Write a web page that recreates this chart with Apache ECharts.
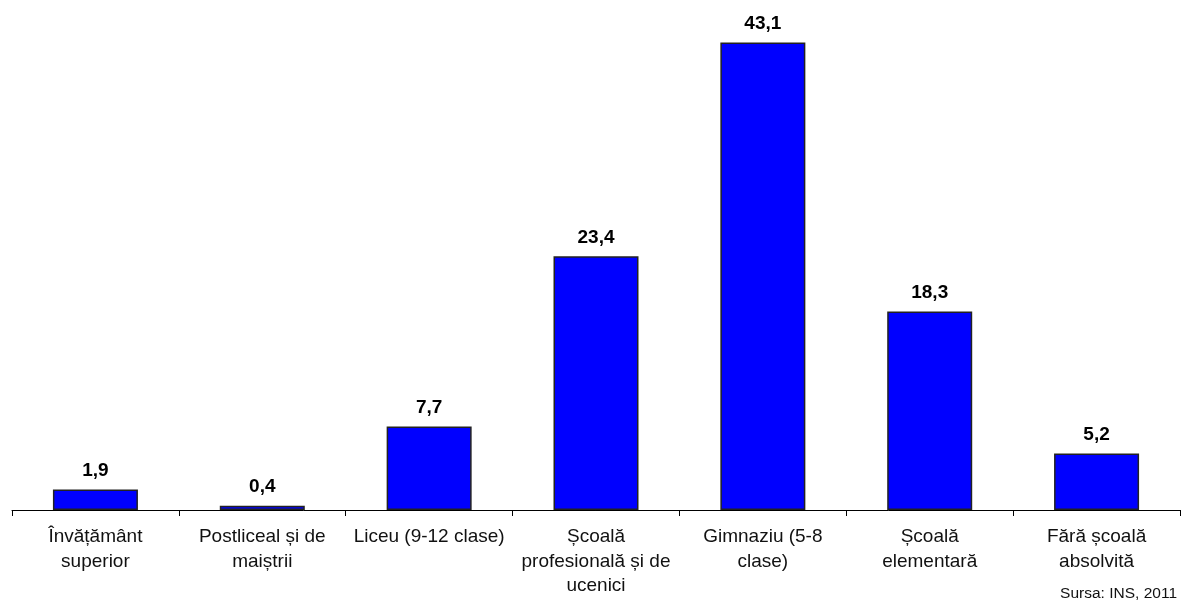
<!DOCTYPE html>
<html><head><meta charset="utf-8">
<script src="https://cdn.jsdelivr.net/npm/echarts@6/dist/echarts.min.js"></script>
<style>html,body{margin:0;padding:0;background:#fff}#c{width:1181px;height:601px}</style>
</head><body><div id="c"></div>
<script>
const categories = ["Învățământ\nsuperior", "Postliceal și de\nmaiștrii", "Liceu (9-12 clase)", "Școală\nprofesională și de\nucenici", "Gimnaziu (5-8\nclase)", "Școală\nelementară", "Fără școală\nabsolvită"];
const values = [1.9, 0.4, 7.7, 23.4, 43.1, 18.3, 5.2];
const sourceText = "Sursa: INS, 2011";

const chart = echarts.init(document.getElementById('c'));
chart.setOption({
  animation: false,
  backgroundColor: '#fff',
  grid: { left: 12, right: 1, top: 22, bottom: 91, containLabel: false },
  xAxis: {
    type: 'category', data: categories,
    axisLine: { lineStyle: { color: '#000', width: 1 } },
    axisTick: { show: true, length: 6, lineStyle: { color: '#000' }, alignWithLabel: false },
    axisLabel: { color: '#111', fontFamily: 'Liberation Sans, Arial', fontSize: 19, lineHeight: 24.5, margin: 15, interval: 0 }
  },
  yAxis: { type: 'value', min: 0, max: 45, show: false, splitLine: { show: false } },
  series: [{
    type: 'bar', data: values, barWidth: 85,
    itemStyle: { color: '#0000FF', borderColor: '#222', borderWidth: 1.5 },
    label: { show: true, position: 'top', distance: 9, color: '#000', fontWeight: 'bold',
      fontFamily: 'Liberation Sans, Arial', fontSize: 19,
      formatter: p => p.value.toFixed(1).replace('.', ',') }
  }],
  graphic: [{ type: 'text', right: 4, top: 586,
    style: { text: sourceText, fill: '#111', font: '15.5px "Liberation Sans", Arial', textAlign: 'right' } }]
});
</script></body></html>
